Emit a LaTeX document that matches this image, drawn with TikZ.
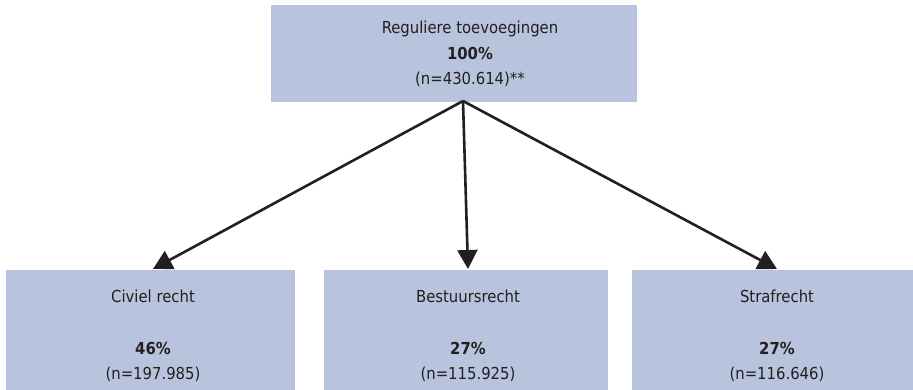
\documentclass[tikz,border=0pt]{standalone}
\usepackage{fontspec}
\setmainfont{DejaVu Sans Condensed}
\usetikzlibrary{arrows.meta}
\definecolor{boxfill}{RGB}{184,196,221}
\definecolor{inkc}{RGB}{35,31,32}
\tikzset{
  box/.style={draw=none,fill=boxfill,rectangle,inner sep=0pt,anchor=north west},
  lbl/.style={align=center,inner sep=0pt,text=inkc,font=\fontsize{16.5}{25.8}\selectfont},
  arr/.style={line width=2.6pt,draw=inkc,-{Triangle[length=19pt,width=20pt]}},
}
\begin{document}
\begin{tikzpicture}[x=1pt,y=-1pt]
\useasboundingbox (0,0) rectangle (913,390);
\clip (0,0) rectangle (913,390);
\fill[white] (0,0) rectangle (913,390);
% boxes
\node[box,minimum width=366pt,minimum height=97pt] (top) at (271,5) {};
\node[box,minimum width=289pt,minimum height=140pt] (civ) at (6,270) {};
\node[box,minimum width=284pt,minimum height=140pt] (bes) at (324,270) {};
\node[box,minimum width=290pt,minimum height=140pt] (str) at (632,270) {};
% texts
\node[lbl] (toptext) at (470,54) {Reguliere toevoegingen\\\textbf{100\%}\\(n=430.614)**};
\node[lbl] (civtext) at (153,336) {Civiel recht\\\mbox{}\\\textbf{46\%}\\(n=197.985)};
\node[lbl] (bestext) at (468,336) {Bestuursrecht\\\mbox{}\\\textbf{27\%}\\(n=115.925)};
\node[lbl] (strtext) at (777,336) {Strafrecht\\\mbox{}\\\textbf{27\%}\\(n=116.646)};
% connectors
\coordinate (apex) at (463,101);
\coordinate (civin) at (153,269);
\coordinate (besin) at (468,269);
\coordinate (strin) at (777,269);
\draw[arr] (apex) -- (civin);
\draw[arr] (apex) -- (besin);
\draw[arr] (apex) -- (strin);
\end{tikzpicture}
\end{document}
